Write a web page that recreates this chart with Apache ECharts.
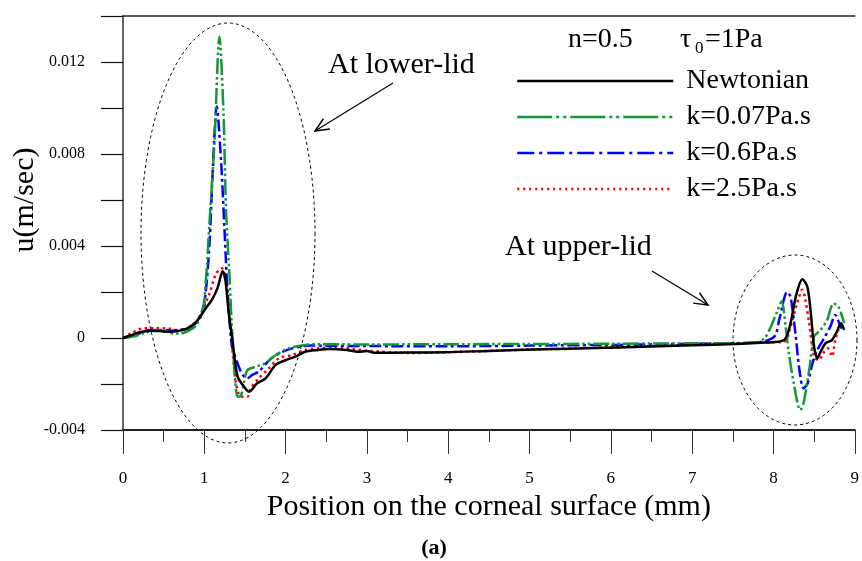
<!DOCTYPE html>
<html><head><meta charset="utf-8">
<script src="https://cdn.jsdelivr.net/npm/echarts@6/dist/echarts.min.js"></script>
<style>html,body{margin:0;padding:0;background:#fff}#c{width:862px;height:561px}</style>
</head><body><div id="c"></div>
<script>
// ---- data ----
const seriesNames = ['Newtonian', 'k=0.07Pa.s', 'k=0.6Pa.s', 'k=2.5Pa.s'];
const xTickLabels = ['0','1','2','3','4','5','6','7','8','9'];
const yTickLabels = ['-0.004','0','0.004','0.008','0.012'];

const newtX = [0,0.1,0.2,0.33,0.45,0.58,0.7,0.78,0.9,1.02,1.1,1.165,1.226,1.26,1.3,1.35,1.41,1.49,1.55,1.65,1.755,1.877,2.0,2.12,2.24,2.4,2.53,2.75,2.89,3.0,3.09,3.5,3.95,4.5,5.17,5.8,6.39,7.0,7.52,7.9,8.13,8.21,8.275,8.356,8.417,8.46,8.5,8.54,8.58,8.64,8.72,8.78,8.83,8.87];
const newtY = [0,0.00012,0.00025,0.00032,0.0003,0.00027,0.00032,0.0004,0.0007,0.0013,0.0017,0.0022,0.0029,0.0025,0.0011,-0.0002,-0.00168,-0.00212,-0.00233,-0.00197,-0.00175,-0.00117,-0.00096,-0.00081,-0.0006,-0.00052,-0.00048,-0.00052,-0.0006,-0.00057,-0.00064,-0.00063,-0.00062,-0.00056,-0.00049,-0.00044,-0.00038,-0.00032,-0.00026,-0.0002,-0.00009,0.00064,0.0018,0.00255,0.00223,0.00107,-0.00038,-0.00088,-0.0006,-0.00023,-0.00009,0.00028,0.00064,0.00035];

const greenX = [0,0.13,0.25,0.41,0.52,0.62,0.7,0.78,0.9,0.98,1.02,1.06,1.125,1.186,1.235,1.267,1.31,1.35,1.41,1.45,1.49,1.53,1.63,1.75,1.88,2.04,2.24,2.4,3.0,4.0,5.0,6.0,7.0,7.77,7.89,7.97,8.05,8.1,8.15,8.19,8.25,8.33,8.37,8.44,8.5,8.58,8.66,8.74,8.8,8.87];
const greenY = [0,0.00006,0.0002,0.00035,0.0003,0.0002,0.0002,0.00027,0.00056,0.0012,0.0025,0.0048,0.0085,0.0131,0.0099,0.0056,0.0027,-0.0002,-0.00255,-0.0025,-0.0019,-0.0014,-0.00125,-0.0011,-0.00074,-0.00045,-0.0003,-0.00027,-0.00028,-0.00027,-0.00026,-0.00025,-0.00023,-0.0002,-0.00001,0.0005,0.0012,0.0016,0.0005,-0.00067,-0.00197,-0.00313,-0.00284,-0.00139,0.00006,0.00035,0.00078,0.0015,0.00136,0.00064];

const blueX = [0,0.15,0.3,0.45,0.6,0.75,0.85,0.93,1.0,1.064,1.1,1.153,1.206,1.247,1.287,1.33,1.35,1.43,1.47,1.53,1.59,1.67,1.8,1.92,2.08,2.3,3.0,4.0,5.0,6.0,7.0,7.8,8.01,8.07,8.17,8.21,8.275,8.32,8.37,8.42,8.48,8.54,8.61,8.7,8.76,8.81,8.84];
const blueY = [0,0.00012,0.00033,0.00035,0.00032,0.00038,0.0005,0.0008,0.0015,0.0041,0.007,0.01006,0.0077,0.0048,0.0019,-0.0001,-0.0005,-0.0013,-0.0016,-0.00175,-0.0016,-0.00146,-0.00096,-0.00067,-0.00045,-0.00033,-0.00035,-0.00036,-0.00033,-0.0003,-0.00025,-0.0002,0.00006,0.00078,0.002,0.0018,0.00006,-0.0014,-0.00219,-0.00197,-0.0011,-0.00052,-0.00009,0.0005,0.001,0.00064,0.0004];

const redX = [0,0.1,0.25,0.4,0.54,0.66,0.78,0.86,0.94,1.06,1.146,1.215,1.27,1.31,1.35,1.39,1.45,1.53,1.57,1.67,1.8,1.92,2.08,2.24,2.4,2.6,3.0,3.5,4.0,5.0,6.0,7.0,7.8,8.13,8.21,8.29,8.356,8.39,8.44,8.5,8.56,8.61,8.67,8.72,8.76,8.8,8.85];
const redY = [0,0.0002,0.00042,0.00042,0.00042,0.00035,0.0004,0.0005,0.00093,0.0019,0.0028,0.00303,0.0025,0.00093,-0.00067,-0.00197,-0.00255,-0.00255,-0.0022,-0.00175,-0.0013,-0.00088,-0.00074,-0.00052,-0.00045,-0.0004,-0.00055,-0.00065,-0.00062,-0.0005,-0.0004,-0.0003,-0.0002,-0.00016,0.0005,0.0015,0.0021,0.0017,0.00064,-0.0008,-0.00096,-0.00067,-0.00045,-0.0008,-0.00009,0.00035,0.0005];

// ---- helpers ----
const FONT = 'Liberation Serif';
const pairs = (xs, ys) => xs.map((x, i) => [x, ys[i]]);
function ellipse(cx, cy, rx, ry) {
  const pts = [];
  for (let i = 0; i < 160; i++) { const t = i / 160 * Math.PI * 2; pts.push([cx + rx * Math.cos(t), cy + ry * Math.sin(t)]); }
  return { type: 'polygon', shape: { points: pts }, style: { fill: null, stroke: '#000', lineWidth: 1, lineDash: [3, 3] }, z: 50 };
}
function arrow(x1, y1, x2, y2) {
  const a = Math.atan2(y2 - y1, x2 - x1), L = 15, w = 0.42;
  return [
    { type: 'line', shape: { x1, y1, x2, y2 }, style: { stroke: '#000', lineWidth: 1.2 }, z: 50 },
    { type: 'polyline', shape: { points: [[x2 - L * Math.cos(a - w), y2 - L * Math.sin(a - w)], [x2, y2], [x2 - L * Math.cos(a + w), y2 - L * Math.sin(a + w)]] }, style: { fill: null, stroke: '#000', lineWidth: 1.5 }, z: 50 }
  ];
}
function txt(x, y, s, size, opts, extra) {
  return Object.assign({ type: 'text', x, y, z: 50, style: Object.assign({ text: s, fontFamily: FONT, fontSize: size, fill: '#000', align: 'left', verticalAlign: 'middle' }, opts || {}) }, extra || {});
}

const colors = { black: '#000000', green: '#15963a', blue: '#0000ff', red: '#ff0000' };
const dashGreen = [16, 3, 2.5, 3, 2.5, 3];
const dashBlue = [12, 3.5, 3, 3.5];
const dashRed = [2.5, 3.5];

const chart = echarts.init(document.getElementById('c'), null, { renderer: 'canvas' });
const isLabeled = v => Math.abs(Math.round(v / 0.004) * 0.004 - v) < 1e-9 && v < 0.013;

chart.setOption({
  animation: false,
  backgroundColor: '#fff',
  grid: { left: 123, right: 1, top: 16, bottom: 131 },
  xAxis: [{
    type: 'value', min: 0, max: 9, interval: 1,
    name: 'Position on the corneal surface (mm)', nameLocation: 'middle', nameGap: 60,
    nameTextStyle: { fontFamily: FONT, fontSize: 30, color: '#000' },
    axisLine: { show: true, onZero: false, lineStyle: { color: '#222', width: 2 } },
    axisTick: { show: true, inside: false, length: 24, lineStyle: { color: '#333', width: 1 } },
    minorTick: { show: true, splitNumber: 2, length: 12, lineStyle: { color: '#333', width: 1 } },
    axisLabel: { margin: 40, fontFamily: FONT, fontSize: 17, color: '#000', formatter: v => xTickLabels[Math.round(v)] },
    splitLine: { show: false }
  }, {
    type: 'value', min: 0, max: 9, position: 'top',
    axisLine: { show: true, onZero: false, lineStyle: { color: '#222', width: 1.5 } },
    axisTick: { show: false }, axisLabel: { show: false }, splitLine: { show: false }
  }],
  yAxis: {
    type: 'value', min: -0.004, max: 0.014, interval: 0.002,
    axisLine: { show: true, onZero: false, lineStyle: { color: '#333', width: 1.5 } },
    axisTick: { show: true, inside: false, length: 22, lineStyle: { color: '#111', width: 1.2 } },
    axisLabel: { margin: 38, fontFamily: FONT, fontSize: 16, color: '#000',
      formatter: v => isLabeled(v) ? yTickLabels[Math.round(v / 0.004) + 1] : '' },
    splitLine: { show: false }
  },
  legend: {
    orient: 'vertical', left: 511, top: 62, itemWidth: 156, itemHeight: 12, itemGap: 8,
    itemStyle: { opacity: 0, borderWidth: 0 },
    textStyle: { fontFamily: FONT, fontSize: 28, color: '#000', lineHeight: 28, padding: [0, 0, 0, 8] },
    data: [
      { name: seriesNames[0], lineStyle: { width: 2.5 } },
      { name: seriesNames[1], lineStyle: { width: 2.5, type: [35, 4, 3, 4, 3, 4] } },
      { name: seriesNames[2], lineStyle: { width: 2.5, type: [17, 5, 3, 5] } },
      { name: seriesNames[3], lineStyle: { width: 2.5, type: [2, 4] } }
    ]
  },
  series: [
    { name: seriesNames[3], type: 'line', data: pairs(redX, redY), symbol: 'none', smooth: 0.3, color: colors.red, lineStyle: { width: 2.5, type: dashRed } },
    { name: seriesNames[2], type: 'line', data: pairs(blueX, blueY), symbol: 'none', smooth: 0.3, color: colors.blue, lineStyle: { width: 2.5, type: dashBlue } },
    { name: seriesNames[1], type: 'line', data: pairs(greenX, greenY), symbol: 'none', smooth: 0.3, color: colors.green, lineStyle: { width: 2.5, type: dashGreen } },
    { name: seriesNames[0], type: 'line', data: pairs(newtX, newtY), symbol: 'none', smooth: 0.3, color: colors.black, lineStyle: { width: 2.5 } }
  ],
  graphic: [
    ellipse(228, 233, 87, 210),
    ellipse(795, 340, 62, 85),
    ...arrow(393, 83, 315, 131),
    ...arrow(652, 271, 708, 305),
    txt(328, 65, 'At lower-lid', 30),
    txt(505, 247, 'At upper-lid', 30),
    txt(568, 40, 'n=0.5', 28),
    txt(680, 40, 'τ', 28),
    txt(695, 49, '0', 17),
    txt(705, 40, '=1Pa', 28),
    txt(25, 200, 'u(m/sec)', 30, { align: 'center' }, { rotation: Math.PI / 2 }),
    txt(434, 548, '(a)', 22, { align: 'center', fontWeight: 'bold' })
  ]
});
</script></body></html>
